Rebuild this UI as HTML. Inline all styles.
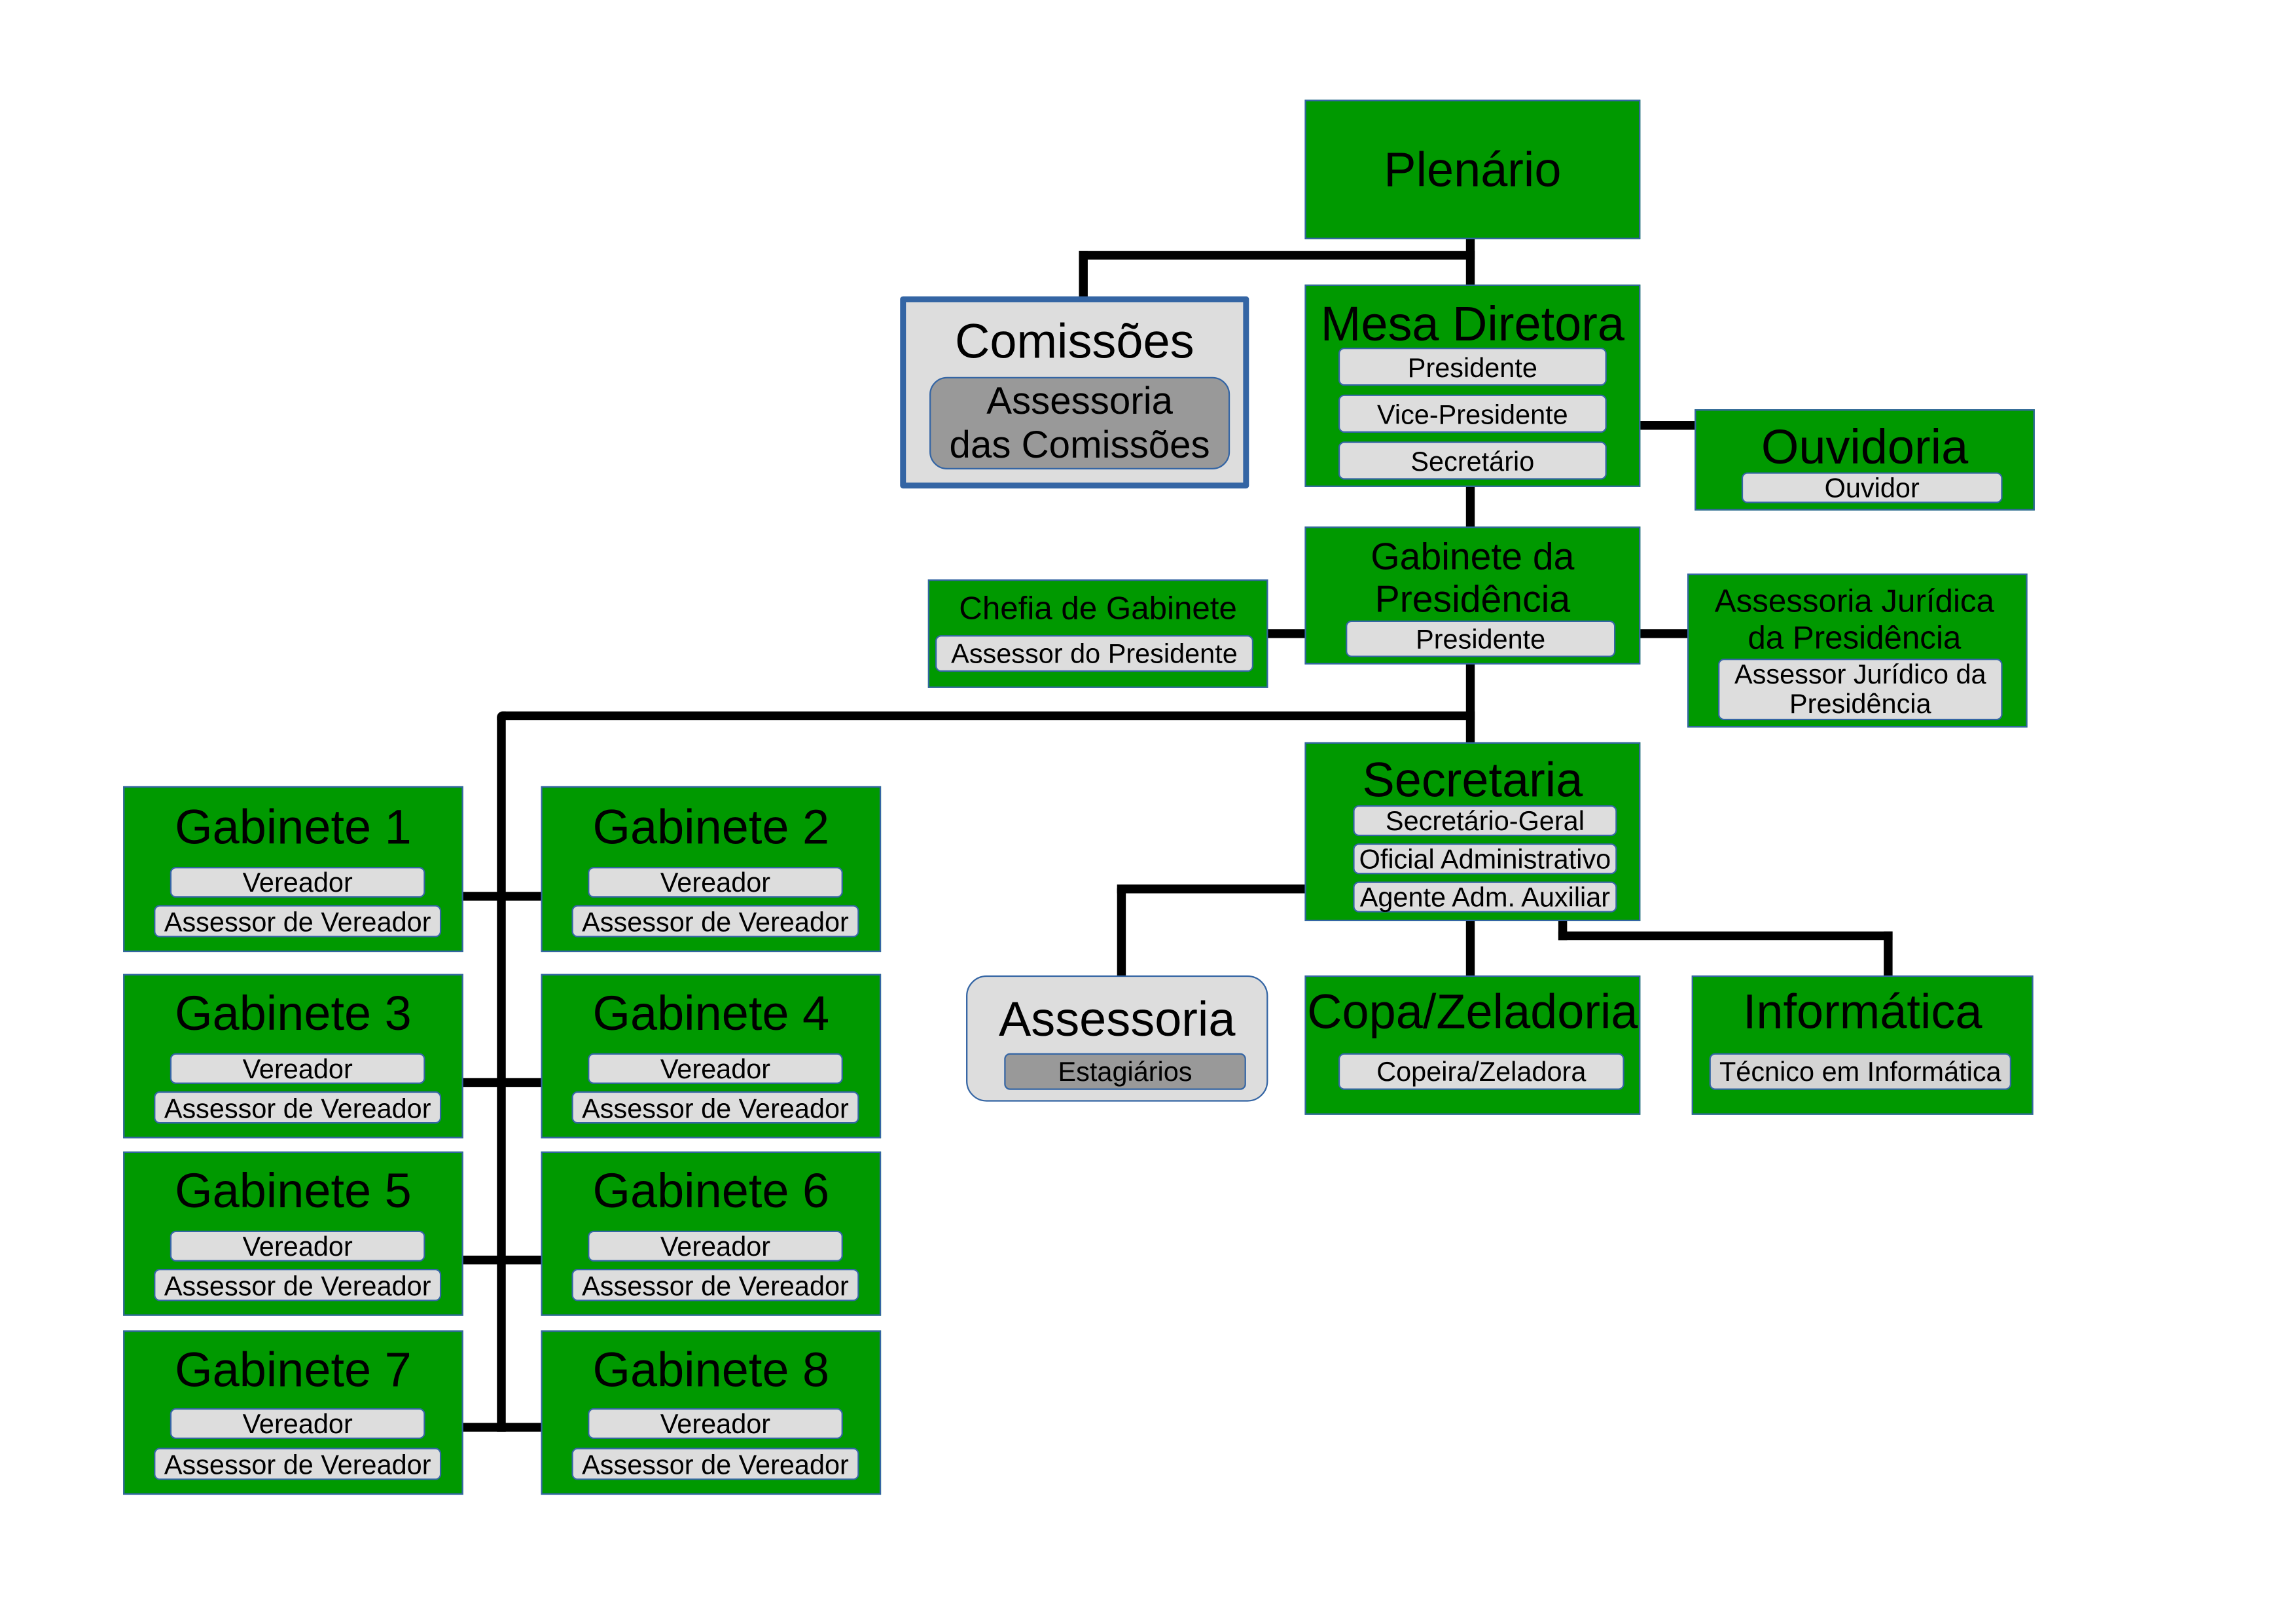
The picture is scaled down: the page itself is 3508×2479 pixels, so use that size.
<!DOCTYPE html>
<html><head><meta charset="utf-8">
<style>
html,body{margin:0;padding:0;background:#fff;}
body{width:3508px;height:2479px;overflow:hidden;position:relative;}
#w{position:absolute;left:0;top:0;width:1560px;height:1102px;transform-origin:0 0;transform:scale(2.2398,2.2405);font-family:"Liberation Sans",sans-serif;color:#000;}
.b{position:absolute;box-sizing:border-box;background:#009900;border:1px solid #3465a4;}
.s{position:absolute;box-sizing:border-box;background:#dddddd;border:1px solid #3465a4;border-radius:4px;text-align:center;font-size:18.5px;white-space:nowrap;overflow:visible;}
.t{position:absolute;text-align:center;white-space:nowrap;}
.l{position:absolute;background:#000;}
</style></head><body><div id="w">

<!-- lines -->
<div class="l" style="left:1000px;top:162px;width:6px;height:33px"></div>
<div class="l" style="left:736px;top:171px;width:270px;height:6px"></div>
<div class="l" style="left:736px;top:171px;width:6px;height:33px"></div>
<div class="l" style="left:1119px;top:287px;width:37px;height:6px"></div>
<div class="l" style="left:1000px;top:331px;width:6px;height:29px"></div>
<div class="l" style="left:864px;top:429px;width:27px;height:6px"></div>
<div class="l" style="left:1119px;top:429px;width:33px;height:6px"></div>
<div class="l" style="left:1000px;top:452px;width:6px;height:56px"></div>
<div class="l" style="left:339px;top:485px;width:667px;height:6px;border-top-left-radius:4px"></div>
<div class="l" style="left:339px;top:485px;width:6px;height:491px;border-top-left-radius:4px"></div>
<div class="l" style="left:315px;top:608px;width:55px;height:6px"></div>
<div class="l" style="left:315px;top:735px;width:55px;height:6px"></div>
<div class="l" style="left:315px;top:856px;width:55px;height:6px"></div>
<div class="l" style="left:315px;top:970px;width:55px;height:6px"></div>
<div class="l" style="left:762px;top:603px;width:129px;height:6px;border-top-left-radius:3px"></div>
<div class="l" style="left:762px;top:603px;width:6px;height:63px"></div>
<div class="l" style="left:1000px;top:627px;width:6px;height:39px"></div>
<div class="l" style="left:1063px;top:627px;width:6px;height:14px"></div>
<div class="l" style="left:1063px;top:635px;width:228px;height:6px"></div>
<div class="l" style="left:1285px;top:635px;width:6px;height:31px"></div>

<!-- Plenário -->
<div class="b" style="left:890px;top:68px;width:229px;height:95px"></div>
<div class="t" style="left:890px;width:229px;top:96px;font-size:33px;line-height:40px">Plenário</div>

<!-- Comissões -->
<div style="position:absolute;box-sizing:border-box;left:614px;top:202px;width:238px;height:131px;background:#dddddd;border:4px solid #3465a4;border-radius:2px"></div>
<div class="t" style="left:614px;width:238px;top:213px;font-size:33px;line-height:40px">Comissões</div>
<div style="position:absolute;box-sizing:border-box;left:634px;top:257px;width:205px;height:63px;background:#999;border:1px solid #3465a4;border-radius:12px"></div>
<div class="t" style="left:634px;width:205px;top:259px;font-size:26px;line-height:29.5px">Assessoria<br>das Comissões</div>

<!-- Mesa Diretora -->
<div class="b" style="left:890px;top:194px;width:229px;height:138px"></div>
<div class="t" style="left:886px;width:237px;top:201px;font-size:33px;line-height:40px">Mesa Diretora</div>
<div class="s" style="left:913px;top:237px;width:183px;height:26px;line-height:25px">Presidente</div>
<div class="s" style="left:913px;top:269px;width:183px;height:26px;line-height:25px">Vice-Presidente</div>
<div class="s" style="left:913px;top:301px;width:183px;height:26px;line-height:25px">Secretário</div>

<!-- Ouvidoria -->
<div class="b" style="left:1156px;top:279px;width:232px;height:69px"></div>
<div class="t" style="left:1156px;width:232px;top:285px;font-size:33px;line-height:40px">Ouvidoria</div>
<div class="s" style="left:1188px;top:322px;width:178px;height:21px;line-height:20px">Ouvidor</div>

<!-- Gabinete da Presidência -->
<div class="b" style="left:890px;top:359px;width:229px;height:94px"></div>
<div class="t" style="left:890px;width:229px;top:366px;font-size:25.5px;line-height:29px">Gabinete da<br>Presidência</div>
<div class="s" style="left:918px;top:423px;width:184px;height:25px;line-height:24px">Presidente</div>

<!-- Chefia -->
<div class="b" style="left:633px;top:395px;width:232px;height:74px"></div>
<div class="t" style="left:633px;width:232px;top:401px;font-size:22px;line-height:28px">Chefia de Gabinete</div>
<div class="s" style="left:638px;top:433px;width:217px;height:25px;line-height:24px">Assessor do Presidente</div>

<!-- Assessoria Jurídica -->
<div class="b" style="left:1151px;top:391px;width:232px;height:105px"></div>
<div class="t" style="left:1151px;width:228px;top:397px;font-size:22px;line-height:25px">Assessoria Jurídica<br>da Presidência</div>
<div class="s" style="left:1172px;top:449px;width:194px;height:42px;line-height:20px;padding-top:0px">Assessor Jurídico da<br>Presidência</div>

<!-- Secretaria -->
<div class="b" style="left:890px;top:506px;width:229px;height:122px"></div>
<div class="t" style="left:890px;width:229px;top:512px;font-size:33px;line-height:40px">Secretaria</div>
<div class="s" style="left:923px;top:549px;width:180px;height:21px;line-height:20px">Secretário-Geral</div>
<div class="s" style="left:923px;top:575px;width:180px;height:21px;line-height:20px">Oficial Administrativo</div>
<div class="s" style="left:923px;top:601px;width:180px;height:21px;line-height:20px">Agente Adm. Auxiliar</div>

<!-- Assessoria -->
<div style="position:absolute;box-sizing:border-box;left:659px;top:665px;width:206px;height:86px;background:#dddddd;border:1px solid #3465a4;border-radius:14px"></div>
<div class="t" style="left:659px;width:206px;top:675px;font-size:33px;line-height:40px">Assessoria</div>
<div class="s" style="left:685px;top:718px;width:165px;height:25px;line-height:24px;background:#999">Estagiários</div>

<!-- Copa -->
<div class="b" style="left:890px;top:665px;width:229px;height:95px"></div>
<div class="t" style="left:886px;width:237px;top:670px;font-size:33px;line-height:40px">Copa/Zeladoria</div>
<div class="s" style="left:913px;top:718px;width:195px;height:25px;line-height:24px">Copeira/Zeladora</div>

<!-- Informática -->
<div class="b" style="left:1154px;top:665px;width:233px;height:95px"></div>
<div class="t" style="left:1154px;width:233px;top:670px;font-size:33px;line-height:40px">Informática</div>
<div class="s" style="left:1166px;top:718px;width:206px;height:25px;line-height:24px;background:#d4d4d4">Técnico em Informática</div>

<!-- Gabinetes -->
<div class="b" style="left:84px;top:536px;width:232px;height:113px"></div>
<div class="t" style="left:84px;width:232px;top:544px;font-size:33px;line-height:40px">Gabinete 1</div>
<div class="s" style="left:116px;top:591px;width:174px;height:21px;line-height:20px">Vereador</div>
<div class="s" style="left:105px;top:617px;width:196px;height:22px;line-height:21px">Assessor de Vereador</div>

<div class="b" style="left:369px;top:536px;width:232px;height:113px"></div>
<div class="t" style="left:369px;width:232px;top:544px;font-size:33px;line-height:40px">Gabinete 2</div>
<div class="s" style="left:401px;top:591px;width:174px;height:21px;line-height:20px">Vereador</div>
<div class="s" style="left:390px;top:617px;width:196px;height:22px;line-height:21px">Assessor de Vereador</div>

<div class="b" style="left:84px;top:664px;width:232px;height:112px"></div>
<div class="t" style="left:84px;width:232px;top:671px;font-size:33px;line-height:40px">Gabinete 3</div>
<div class="s" style="left:116px;top:718px;width:174px;height:21px;line-height:20px">Vereador</div>
<div class="s" style="left:105px;top:744px;width:196px;height:22px;line-height:21px">Assessor de Vereador</div>

<div class="b" style="left:369px;top:664px;width:232px;height:112px"></div>
<div class="t" style="left:369px;width:232px;top:671px;font-size:33px;line-height:40px">Gabinete 4</div>
<div class="s" style="left:401px;top:718px;width:174px;height:21px;line-height:20px">Vereador</div>
<div class="s" style="left:390px;top:744px;width:196px;height:22px;line-height:21px">Assessor de Vereador</div>

<div class="b" style="left:84px;top:785px;width:232px;height:112px"></div>
<div class="t" style="left:84px;width:232px;top:792px;font-size:33px;line-height:40px">Gabinete 5</div>
<div class="s" style="left:116px;top:839px;width:174px;height:21px;line-height:20px">Vereador</div>
<div class="s" style="left:105px;top:865px;width:196px;height:22px;line-height:21px">Assessor de Vereador</div>

<div class="b" style="left:369px;top:785px;width:232px;height:112px"></div>
<div class="t" style="left:369px;width:232px;top:792px;font-size:33px;line-height:40px">Gabinete 6</div>
<div class="s" style="left:401px;top:839px;width:174px;height:21px;line-height:20px">Vereador</div>
<div class="s" style="left:390px;top:865px;width:196px;height:22px;line-height:21px">Assessor de Vereador</div>

<div class="b" style="left:84px;top:907px;width:232px;height:112px"></div>
<div class="t" style="left:84px;width:232px;top:914px;font-size:33px;line-height:40px">Gabinete 7</div>
<div class="s" style="left:116px;top:960px;width:174px;height:21px;line-height:20px">Vereador</div>
<div class="s" style="left:105px;top:987px;width:196px;height:22px;line-height:21px">Assessor de Vereador</div>

<div class="b" style="left:369px;top:907px;width:232px;height:112px"></div>
<div class="t" style="left:369px;width:232px;top:914px;font-size:33px;line-height:40px">Gabinete 8</div>
<div class="s" style="left:401px;top:960px;width:174px;height:21px;line-height:20px">Vereador</div>
<div class="s" style="left:390px;top:987px;width:196px;height:22px;line-height:21px">Assessor de Vereador</div>

</div></body></html>
